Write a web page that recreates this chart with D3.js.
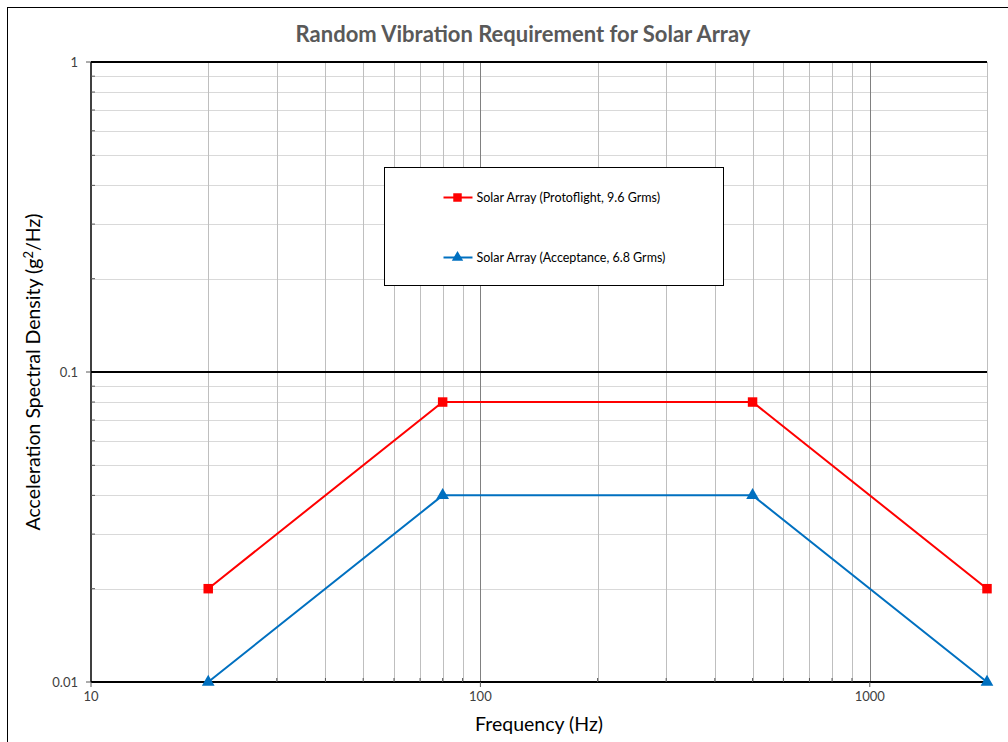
<!DOCTYPE html>
<html>
<head>
<meta charset="utf-8">
<script src="https://cdn.jsdelivr.net/npm/d3@7/dist/d3.min.js"></script>
<style>
  body { margin: 0; background: #fff; }
  svg text { font-family: Lato, "Open Sans", sans-serif; }
</style>
</head>
<body>
<div id="chart"></div>
<script>
// chart values
const freq = [20, 80, 500, 2000];
const protoflight = [0.02, 0.08, 0.08, 0.02];
const acceptance = [0.01, 0.04, 0.04, 0.01];
const seriesNames = ['Solar Array (Protoflight, 9.6 Grms)', 'Solar Array (Acceptance, 6.8 Grms)'];
const xTickLabels = [10, 100, 1000];
const yTickLabels = [0.01, 0.1, 1];

const W = 1008, H = 742;
const m = { left: 91, right: 21, top: 62, bottom: 60 };

const svg = d3.select('#chart')
  .append('svg')
  .attr('width', W)
  .attr('height', H);

// outer chart border
svg.append('rect')
  .attr('x', 7.5).attr('y', 7.5)
  .attr('width', W + 10).attr('height', H + 10)
  .attr('fill', 'none').attr('stroke', '#000').attr('stroke-width', 1);

const x = d3.scaleLog().domain([10, 2000]).range([m.left, W - m.right]);
const y = d3.scaleLog().domain([0.01, 1]).range([H - m.bottom, m.top]);

// minor + major grid values
const xMinor = [];
[10, 100, 1000].forEach(d => { for (let k = 2; k <= 9; k++) if (d * k <= 2000) xMinor.push(d * k); });
const yMinor = [];
[0.01, 0.1].forEach(d => { for (let k = 2; k <= 9; k++) yMinor.push(d * k); });

const grid = svg.append('g');
grid.selectAll('.hminor').data(yMinor).enter().append('line')
  .attr('x1', x(10)).attr('x2', x(2000))
  .attr('y1', d => Math.round(y(d)) + 0.5).attr('y2', d => Math.round(y(d)) + 0.5)
  .attr('stroke', '#d9d9d9').attr('stroke-width', 1);
grid.selectAll('.vminor').data(xMinor).enter().append('line')
  .attr('x1', d => Math.round(x(d)) + 0.5).attr('x2', d => Math.round(x(d)) + 0.5)
  .attr('y1', y(1)).attr('y2', y(0.01))
  .attr('stroke', '#bfbfbf').attr('stroke-width', 1);
grid.selectAll('.vmajor').data([100, 1000]).enter().append('line')
  .attr('x1', d => Math.round(x(d)) + 0.5).attr('x2', d => Math.round(x(d)) + 0.5)
  .attr('y1', y(1)).attr('y2', y(0.01))
  .attr('stroke', '#808080').attr('stroke-width', 1);
grid.selectAll('.hmajor').data([0.1, 1]).enter().append('line')
  .attr('x1', x(10)).attr('x2', x(2000))
  .attr('y1', d => Math.round(y(d))).attr('y2', d => Math.round(y(d)))
  .attr('stroke', '#000').attr('stroke-width', 2);

// axes
const yAxis = svg.append('g').attr('transform', `translate(${x(10)},0)`);
yAxis.append('line').attr('y1', y(1)).attr('y2', y(0.01)).attr('stroke', '#000').attr('stroke-width', 1.5);
yAxis.selectAll('.ymt').data(yMinor).enter().append('line')
  .attr('x1', 0).attr('x2', 4).attr('y1', d => y(d)).attr('y2', d => y(d))
  .attr('stroke', '#595959');
yAxis.selectAll('.yMt').data(yTickLabels).enter().append('line')
  .attr('x1', -5).attr('x2', 0).attr('y1', d => y(d)).attr('y2', d => y(d))
  .attr('stroke', '#595959');
yAxis.selectAll('.ylab').data(yTickLabels).enter().append('text')
  .attr('x', -13).attr('y', d => y(d) + 4.5)
  .attr('text-anchor', 'end').attr('font-size', 13).attr('fill', '#404040')
  .text(d => d);

const xAxis = svg.append('g').attr('transform', `translate(0,${y(0.01)})`);
xAxis.append('line').attr('x1', x(10)).attr('x2', x(2000)).attr('stroke', '#000').attr('stroke-width', 2);
xAxis.selectAll('.xmt').data(xMinor).enter().append('line')
  .attr('x1', d => x(d)).attr('x2', d => x(d)).attr('y1', -4).attr('y2', 0)
  .attr('stroke', '#595959');
xAxis.selectAll('.xMt').data(xTickLabels).enter().append('line')
  .attr('x1', d => x(d)).attr('x2', d => x(d)).attr('y1', 0).attr('y2', 5)
  .attr('stroke', '#595959');
xAxis.selectAll('.xlab').data(xTickLabels).enter().append('text')
  .attr('x', d => x(d)).attr('y', 19)
  .attr('text-anchor', 'middle').attr('font-size', 13).attr('fill', '#404040')
  .text(d => d);

// titles
svg.append('text')
  .attr('x', 523).attr('y', 42)
  .attr('text-anchor', 'middle').attr('font-size', 22).attr('font-weight', 'bold')
  .attr('fill', '#595959')
  .text('Random Vibration Requirement for Solar Array');
svg.append('text')
  .attr('x', 539).attr('y', 731)
  .attr('text-anchor', 'middle').attr('font-size', 19.5).attr('fill', '#000')
  .text('Frequency (Hz)');
svg.append('text')
  .attr('transform', 'translate(40,372) rotate(-90)')
  .attr('text-anchor', 'middle').attr('font-size', 19.5).attr('fill', '#000')
  .text('Acceleration Spectral Density (g')
  .call(t => t.append('tspan').attr('dy', -7).attr('font-size', 13).text('2'))
  .call(t => t.append('tspan').attr('dy', 7).text('/Hz)'));

// series
const series = [
  { name: seriesNames[0], values: protoflight, color: '#ff0000', symbol: d3.symbolSquare, size: 90 },
  { name: seriesNames[1], values: acceptance, color: '#0070c0', symbol: d3.symbolTriangle, size: 70 }
];
const line = d3.line().x(d => x(d[0])).y(d => y(d[1]));

series.forEach(s => {
  const pts = freq.map((f, i) => [f, s.values[i]]);
  svg.append('path')
    .attr('d', line(pts))
    .attr('fill', 'none').attr('stroke', s.color).attr('stroke-width', 2);
  svg.selectAll(null).data(pts).enter().append('path')
    .attr('d', d3.symbol().type(s.symbol).size(s.size))
    .attr('transform', d => `translate(${x(d[0])},${y(d[1])})`)
    .attr('fill', s.color);
});

// legend
const legend = svg.append('g').attr('transform', 'translate(384.5,167.5)');
legend.append('rect')
  .attr('width', 339).attr('height', 118)
  .attr('fill', '#fff').attr('stroke', '#000').attr('stroke-width', 1);
series.forEach((s, i) => {
  const ly = 30 + i * 60;
  legend.append('line')
    .attr('x1', 59).attr('x2', 88).attr('y1', ly).attr('y2', ly)
    .attr('stroke', s.color).attr('stroke-width', 2);
  legend.append('path')
    .attr('d', d3.symbol().type(s.symbol).size(s.size * 0.8))
    .attr('transform', `translate(73,${ly})`)
    .attr('fill', s.color);
  legend.append('text')
    .attr('x', 92).attr('y', ly + 4.5)
    .attr('font-size', 12.5).attr('fill', '#000')
    .text(s.name);
});
</script>
</body>
</html>
